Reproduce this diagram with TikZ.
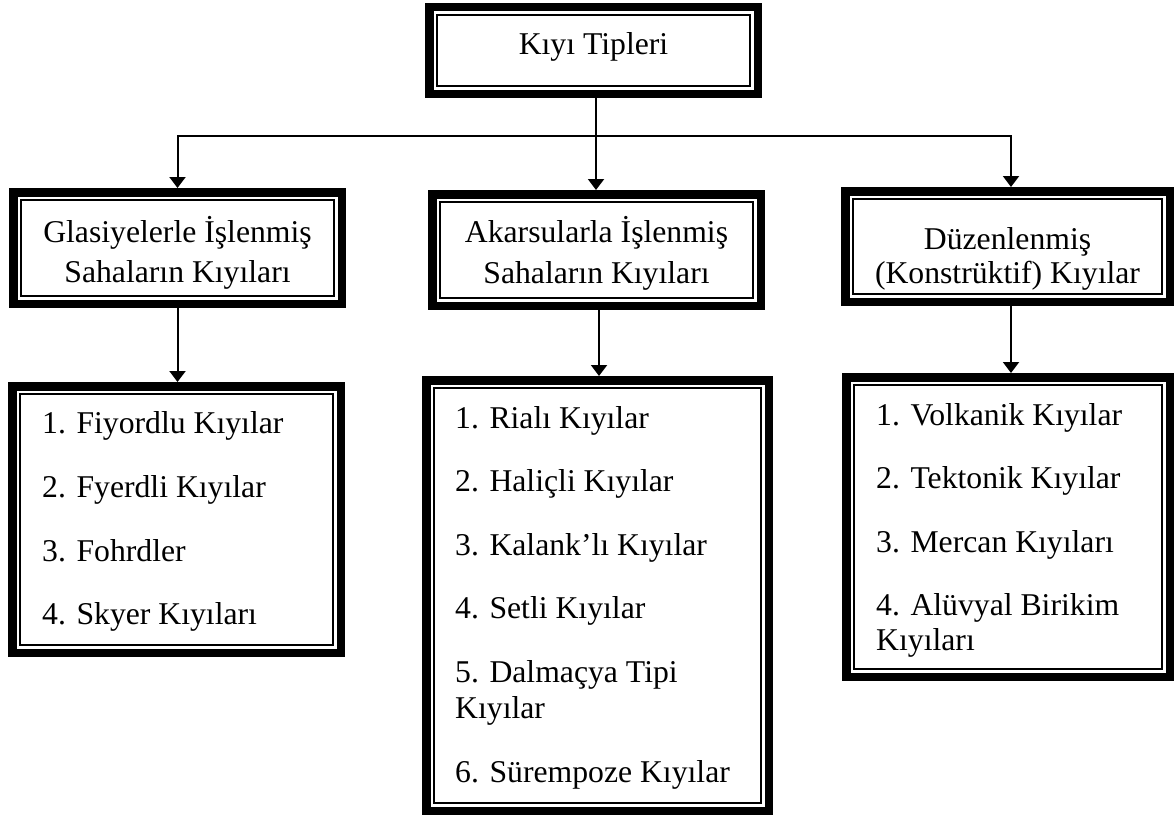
\documentclass[tikz,border=0pt]{standalone}
\usepackage{fontspec}
\setmainfont{Liberation Serif}
\usetikzlibrary{arrows.meta,calc}
\tikzset{
  kutu/.style 2 args={draw=black, rectangle, line width=8.5pt, inner sep=0pt, outer sep=4.25pt,
    minimum width=#1, minimum height=#2},
  icçizgi/.style={draw=black, line width=1.7pt},
  yazi/.style={font=\fontsize{31.7}{36.4}\selectfont, inner sep=0pt, anchor=base west},
  baslik/.style={font=\fontsize{31.7}{36.4}\selectfont, inner sep=0pt, anchor=base},
  hat/.style={draw=black, line width=2pt},
  ok/.style={hat, -{Triangle[width=16pt,length=11pt]}}
}
\begin{document}
\begin{tikzpicture}[x=1pt,y=-1pt]
\useasboundingbox (0,0) rectangle (1175,816);
% boxes (outer edge = anchors, thick line inside)
\node[kutu={328.5pt}{86.5pt}]  (top) at (593.5,50.5) {};
\node[kutu={328.5pt}{111.5pt}] (G)   at (177.5,248) {};
\node[kutu={328.5pt}{111.5pt}] (A)   at (596.5,250) {};
\node[kutu={324.5pt}{110.5pt}] (D)   at (1007.5,246.5) {};
\node[kutu={328.5pt}{266.5pt}] (LG)  at (176.5,519.5) {};
\node[kutu={342.5pt}{430.5pt}] (LA)  at (597.5,595.5) {};
\node[kutu={323.5pt}{299.5pt}] (LD)  at (1008,527) {};
% inner thin frame of each box
\foreach \n in {top,G,A,D,LG,LA,LD}
  \draw[icçizgi] ([shift={(12pt,-12pt)}]\n.north west) rectangle ([shift={(-12pt,12pt)}]\n.south east);
% header texts
\node[baslik] (t0) at (593.5,55) {Kıyı Tipleri};
\node[baslik] (g1) at (177.5,242) {Glasiyelerle İşlenmiş};
\node[baslik] (g2) at (177.5,282) {Sahaların Kıyıları};
\node[baslik] (a1) at (596.5,242) {Akarsularla İşlenmiş};
\node[baslik] (a2) at (596.5,283) {Sahaların Kıyıları};
\node[baslik] (d1) at (1007.5,249) {Düzenlenmiş};
\node[baslik] (d2) at (1007.5,283) {(Konstrüktif) Kıyılar};
% list G
\node[yazi] (lg1) at (42,433) {1. Fiyordlu Kıyılar};
\node[yazi] (lg2) at (42,497) {2. Fyerdli Kıyılar};
\node[yazi] (lg3) at (42,561) {3. Fohrdler};
\node[yazi] (lg4) at (42,624) {4. Skyer Kıyıları};
% list A
\node[yazi] (la1) at (455,428) {1. Rialı Kıyılar};
\node[yazi] (la2) at (455,491) {2. Haliçli Kıyılar};
\node[yazi] (la3) at (455,555) {3. Kalank’lı Kıyılar};
\node[yazi] (la4) at (455,618) {4. Setli Kıyılar};
\node[yazi] (la5) at (455,682) {5. Dalmaçya Tipi};
\node[yazi] (la5b) at (455,718) {Kıyılar};
\node[yazi] (la6) at (455,782) {6. Sürempoze Kıyılar};
% list D
\node[yazi] (ld1) at (876,425) {1. Volkanik Kıyılar};
\node[yazi] (ld2) at (876,488) {2. Tektonik Kıyılar};
\node[yazi] (ld3) at (876,552) {3. Mercan Kıyıları};
\node[yazi] (ld4) at (876,615) {4. Alüvyal Birikim};
\node[yazi] (ld4b) at (876,650) {Kıyıları};
% connectors
\coordinate (hub) at (596,136);
\draw[hat] (top.south -| hub) -- (hub);
\draw[ok] (hub) -| (G.north);
\draw[ok] (hub) -| ([xshift=3.5pt]D.north);
\draw[ok] (hub) -- (hub |- A.north);
\draw[ok] (G.south) -- (G.south |- LG.north);
\draw[ok] ([xshift=2.5pt]A.south) -- ([xshift=2.5pt]A.south |- LA.north);
\draw[ok] ([xshift=3.5pt]D.south) -- ([xshift=3.5pt]D.south |- LD.north);
\end{tikzpicture}
\end{document}
